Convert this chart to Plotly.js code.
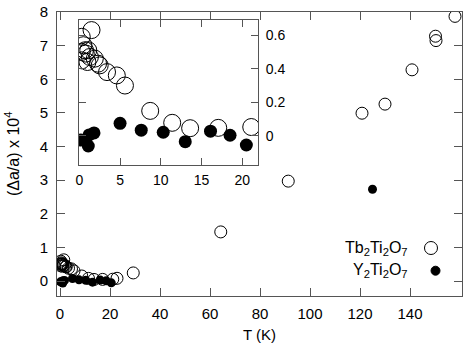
<!DOCTYPE html>
<html>
<head>
<meta charset="utf-8">
<script src="https://cdn.plot.ly/plotly-3.0.1.min.js"></script>
<style>
  body { margin: 0; background: white; }
  #chart { width: 463px; height: 348px; }
</style>
</head>
<body>
<div id="chart"></div>
<script>
// Tb2Ti2O7, low temperature points (shown in both inset and main plot)
var tbTempLow = [1.5, 0.3, 0.5, 0.7, 0.3, 0.3, 0.8, 1.1, 1.0, 1.3, 1.9, 2.3, 2.5, 3.4, 4.6, 5.6, 8.7, 11.4, 13.6, 17.05, 21.1];
var tbDaLow   = [0.63, 0.59, 0.54, 0.51, 0.50, 0.45, 0.49, 0.51, 0.44, 0.47, 0.46, 0.43, 0.42, 0.38, 0.36, 0.30, 0.149, 0.078, 0.046, 0.048, 0.053];
// Tb2Ti2O7, higher temperature points (main plot only)
var tbTempHigh = [22.8, 29.3, 64.3, 91.3, 120.8, 130, 140.8, 150.2, 150.4, 158];
var tbDaHigh   = [0.08, 0.24, 1.46, 2.97, 4.99, 5.26, 6.28, 7.28, 7.15, 7.87];

// Y2Ti2O7
var yTempLow = [0.2, 0.7, 1.1, 1.2, 1.8, 5.0, 7.6, 10.3, 13.0, 16.1, 18.5, 20.5];
var yDaLow   = [-0.024, -0.024, -0.06, 0.006, 0.018, 0.075, 0.034, 0.022, -0.034, 0.028, 0.004, -0.054];
var yTempHigh = [125];
var yDaHigh   = [2.73];

var mainXTicks = [0, 20, 40, 60, 80, 100, 120, 140];
var mainYTicks = [0, 1, 2, 3, 4, 5, 6, 7, 8];
var insetXTicks = [0, 5, 10, 15, 20];
var insetYTicks = [0, 0.2, 0.4, 0.6];

var lineCol = '#555';

var traces = [
  {
    x: tbTempLow.concat(tbTempHigh), y: tbDaLow.concat(tbDaHigh),
    type: 'scatter', mode: 'markers', xaxis: 'x', yaxis: 'y',
    marker: {symbol: 'circle-open', size: 12, color: 'black', line: {width: 1, color: 'black'}}
  },
  {
    x: yTempLow.concat(yTempHigh), y: yDaLow.concat(yDaHigh),
    type: 'scatter', mode: 'markers', xaxis: 'x', yaxis: 'y',
    marker: {symbol: 'circle', size: 9, color: 'black'}
  },
  {
    x: tbTempLow, y: tbDaLow,
    type: 'scatter', mode: 'markers', xaxis: 'x2', yaxis: 'y2',
    marker: {symbol: 'circle-open', size: 17, color: 'black', line: {width: 1, color: 'black'}}
  },
  {
    x: yTempLow, y: yDaLow,
    type: 'scatter', mode: 'markers', xaxis: 'x2', yaxis: 'y2',
    marker: {symbol: 'circle', size: 13, color: 'black'}
  }
];

var axBase = {
  showgrid: false, zeroline: false, showline: true, mirror: 'ticks',
  linecolor: lineCol, linewidth: 1, ticks: 'inside', ticklen: 8,
  tickcolor: lineCol, tickwidth: 1, tickmode: 'array'
};

var layout = {
  width: 463, height: 348,
  margin: {l: 57, r: 1, t: 12, b: 52},
  paper_bgcolor: 'white', plot_bgcolor: 'white',
  showlegend: false,
  font: {family: 'Liberation Sans, Arial, sans-serif', size: 15, color: 'black'},
  xaxis: Object.assign({}, axBase, {
    range: [-1.2, 160.8], tickvals: mainXTicks, domain: [0, 1],
    ticklabelstandoff: 4, anchor: 'y'
  }),
  yaxis: Object.assign({}, axBase, {
    range: [-0.446, 8], tickvals: mainYTicks, domain: [0, 1],
    ticklabelstandoff: 5, anchor: 'x'
  }),
  xaxis2: Object.assign({}, axBase, {
    range: [-0.04, 21.93], tickvals: insetXTicks, anchor: 'y2',
    domain: [0.0543, 0.4963], ticklen: 7, ticklabelstandoff: 2,
    tickfont: {size: 14}
  }),
  yaxis2: Object.assign({}, axBase, {
    range: [-0.173, 0.69], tickvals: insetYTicks, anchor: 'x2', side: 'right',
    domain: [0.4613, 0.9718], ticklen: 7, ticklabelstandoff: 4,
    tickfont: {size: 14}
  }),
  annotations: [
    {xref: 'paper', yref: 'paper', x: -0.111, y: 0.5, xanchor: 'center', yanchor: 'middle',
     textangle: -90, showarrow: false, text: '(\u0394a/a) x 10<sup>4</sup>', font: {size: 16}},
    {xref: 'paper', yref: 'paper', x: 0.5, y: -0.137, xanchor: 'center', yanchor: 'middle',
     showarrow: false, text: 'T (K)', font: {size: 15}},
    {xref: 'paper', yref: 'paper', x: 0.8716, y: 0.169, xanchor: 'right', yanchor: 'middle',
     showarrow: false, text: 'Tb<sub>2</sub>Ti<sub>2</sub>O<sub>7</sub>', font: {size: 16}},
    {xref: 'paper', yref: 'paper', x: 0.8716, y: 0.0915, xanchor: 'right', yanchor: 'middle',
     showarrow: false, text: 'Y<sub>2</sub>Ti<sub>2</sub>O<sub>7</sub>', font: {size: 16}}
  ],
  shapes: [
    {type: 'circle', xref: 'paper', yref: 'paper', x0: 0.9074, x1: 0.9395, y0: 0.1461, y1: 0.1919,
     line: {color: 'black', width: 1}},
    {type: 'circle', xref: 'paper', yref: 'paper', x0: 0.9235, x1: 0.9457, y0: 0.0732, y1: 0.1049,
     fillcolor: 'black', line: {color: 'black', width: 1}}
  ]
};

Plotly.newPlot('chart', traces, layout, {staticPlot: true});
</script>
</body>
</html>
